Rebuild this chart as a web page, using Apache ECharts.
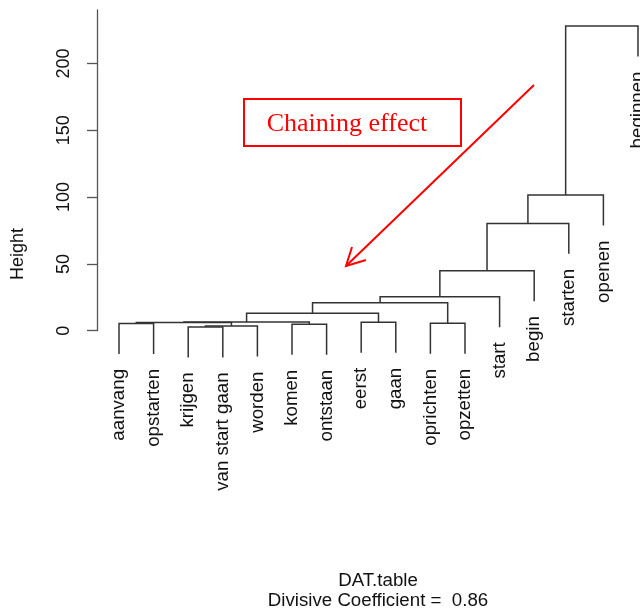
<!DOCTYPE html>
<html>
<head>
<meta charset="utf-8">
<script src="https://cdn.jsdelivr.net/npm/echarts@6/dist/echarts.min.js"></script>
<style>
  html, body { margin: 0; padding: 0; background: #fff; }
  #chart { width: 640px; height: 612px; }
</style>
</head>
<body>
<div id="chart"></div>
<script>
// Leaves in dendrogram order (left to right)
const leaves = ['aanvang', 'opstarten', 'krijgen', 'van start gaan', 'worden', 'komen', 'ontstaan',
  'eerst', 'gaan', 'oprichten', 'opzetten', 'start', 'begin', 'starten', 'openen', 'beginnen'];

// Merge steps: negative = leaf number (1-based), positive = earlier merge step (1-based)
const mergeLeft   = [-1, -3,  2,  1, -6,  4, -8,  6, -10,  8,  10,  11,  12,  13,  14];
const mergeRight  = [-2, -4, -5,  3, -7,  5, -9,  7, -11,  9, -12, -13, -14, -15, -16];
const mergeHeight = [5.4, 2.8, 3.5, 6.1, 4.8, 6.5, 6.3, 13.0, 5.5, 20.9, 25.4, 44.9, 80.3, 101.5, 228];

const heightTicks = [0, 50, 100, 150, 200];
const mainTitle = 'DAT.table';
const subTitle = 'Divisive Coefficient =  0.86';
const yName = 'Height';
const noteText = 'Chaining effect';

// ---- dendrogram layout (hclust style, leaves hang by 10% of the tallest merge) ----
const hang = 0.1 * Math.max(...mergeHeight);
const centers = [];
const branches = [];
const leafBottom = new Array(leaves.length).fill(0);
function child(c, h) {
  if (c < 0) {
    const idx = -c - 1;
    leafBottom[idx] = h - hang;
    return [idx, h - hang];
  }
  return [centers[c - 1], mergeHeight[c - 1]];
}
mergeHeight.forEach((h, i) => {
  const [xl, yl] = child(mergeLeft[i], h);
  const [xr, yr] = child(mergeRight[i], h);
  centers[i] = (xl + xr) / 2;
  branches.push([xl, yl, xr, yr, h]);
});
const leafData = leaves.map((name, i) => [i, leafBottom[i]]);

const FONT = '"Liberation Sans", Arial, sans-serif';
const TEXT = '18.7px ' + FONT;

const chart = echarts.init(document.getElementById('chart'), null, { renderer: 'canvas' });
chart.setOption({
  animation: false,
  backgroundColor: '#fff',
  grid: { left: 97, right: 0, top: 10, bottom: 281.3 },
  xAxis: { type: 'value', min: -0.636, max: 15.058, show: false },
  yAxis: {
    type: 'value', min: 0, max: 240,
    axisLine: { show: true, onZero: false, lineStyle: { color: '#555', width: 1.3 } },
    axisTick: { show: true, length: 10, customValues: heightTicks, lineStyle: { color: '#555', width: 1.3 } },
    axisLabel: { customValues: heightTicks, rotate: 90, margin: 24, fontSize: 18, color: '#111', fontFamily: FONT },
    splitLine: { show: false }
  },
  series: [
    {
      type: 'custom',
      clip: false,
      data: branches,
      renderItem: function (params, api) {
        const a = api.coord([api.value(0), api.value(1)]);
        const b = api.coord([api.value(0), api.value(4)]);
        const c = api.coord([api.value(2), api.value(4)]);
        const d = api.coord([api.value(2), api.value(3)]);
        return {
          type: 'polyline',
          shape: { points: [a, b, c, d] },
          style: { stroke: '#333', lineWidth: 1.5, fill: null }
        };
      }
    },
    {
      type: 'custom',
      clip: false,
      data: leafData,
      renderItem: function (params, api) {
        const p = api.coord([api.value(0), api.value(1)]);
        return {
          type: 'text',
          x: p[0],
          y: p[1] + 15,
          rotation: Math.PI / 2,
          style: {
            text: leaves[params.dataIndex],
            align: 'right',
            verticalAlign: 'middle',
            font: TEXT,
            fill: '#111'
          }
        };
      }
    }
  ],
  graphic: [
    { type: 'text', x: 18, y: 254, rotation: Math.PI / 2,
      style: { text: yName, align: 'center', verticalAlign: 'middle', font: '18px ' + FONT, fill: '#111' } },
    { type: 'text', x: 378, y: 580.5,
      style: { text: mainTitle, align: 'center', verticalAlign: 'middle', font: TEXT, fill: '#111' } },
    { type: 'text', x: 378, y: 600.5,
      style: { text: subTitle, align: 'center', verticalAlign: 'middle', font: TEXT, fill: '#111' } },
    // annotation box with arrow
    { type: 'rect', shape: { x: 244, y: 99, width: 217, height: 47 },
      style: { stroke: '#f00', lineWidth: 2, fill: null } },
    { type: 'text', x: 347, y: 124,
      style: { text: noteText, align: 'center', verticalAlign: 'middle', font: '26px "Liberation Serif", serif', fill: '#f00' } },
    { type: 'line', shape: { x1: 534, y1: 85, x2: 346, y2: 266 },
      style: { stroke: '#f00', lineWidth: 2 } },
    { type: 'polyline', shape: { points: [[352, 247], [346, 266], [366, 260]] },
      style: { stroke: '#f00', lineWidth: 2, fill: null } }
  ]
});
</script>
</body>
</html>
